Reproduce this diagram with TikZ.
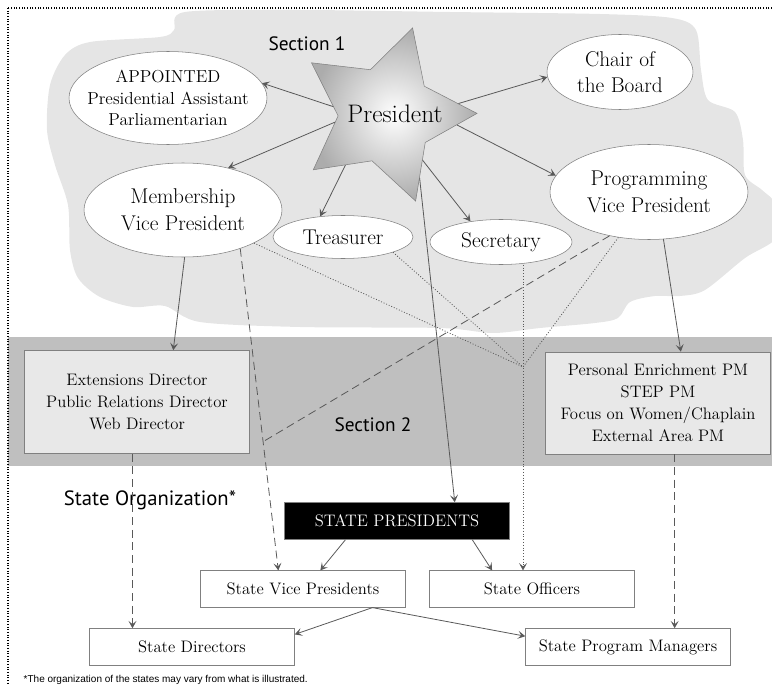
\documentclass[tikz,border=0pt]{standalone}
\usepackage{fontspec}
\newfontfamily\sectfont{PT Sans}
\newfontfamily\notefont{Liberation Sans}
\usetikzlibrary{arrows.meta,shapes.geometric}
\tikzset{>={Stealth[length=5.5pt,width=6pt,inset=2.5pt]}}
\definecolor{cloudgray}{gray}{0.9}
\definecolor{bandgray}{gray}{0.75}
\definecolor{boxgray}{gray}{0.91}
\definecolor{linegray}{gray}{0.35}
\tikzstyle{oval}=[ellipse,draw=gray,fill=white,inner sep=0pt]
\tikzstyle{ovaltext}=[align=center,inner sep=0pt,font=\fontsize{16}{20}\selectfont]
\tikzstyle{office}=[rectangle,draw=gray,fill=boxgray,align=center,minimum width=168.75pt,font=\fontsize{12.5}{16.5}\selectfont]
\tikzstyle{state}=[rectangle,draw=gray,fill=white,minimum width=153.75pt,minimum height=27.5pt,font=\fontsize{12.5}{15}\selectfont]
\tikzstyle{link}=[->,draw=linegray,line width=0.6pt]
\tikzstyle{dashlink}=[link,dash pattern=on 6pt off 3.5pt]
\tikzstyle{dotlink}=[draw=linegray,line width=0.6pt,dash pattern=on 0.7pt off 1.4pt]
\tikzstyle{heading}=[font=\sectfont\fontsize{14.5}{17}\selectfont]

\begin{document}
\begin{tikzpicture}[x=0.75pt,y=-0.75pt]
	\useasboundingbox (0,0) rectangle (772,685);

	% backgrounds
	\fill[cloudgray] plot[smooth cycle,tension=0.5] coordinates {
		(185,12) (300,10) (450,12) (600,14) (672,18) (696,30) (701,70) (708,100)
		(735,112) (743,140) (745,175) (762,190) (776,205) (776,238) (745,258)
		(705,290) (680,296) (655,296) (630,302) (618,318) (595,323) (540,328)
		(493,333) (440,328) (300,327) (200,322) (165,306) (133,307) (100,297)
		(78,278) (70,250) (68,205) (55,165) (47,130) (50,85) (65,55) (90,42)
		(160,37) (174,30)};
	\fill[bandgray] (8,337) rectangle (772,466);
	\draw[line width=0.8pt,dash pattern=on 0.8pt off 1.2pt] (8,8) rectangle (790,700);

	% Section 1
	\node[star,star points=5,star point ratio=1.9,shape border rotate=-17,minimum size=136.5pt,
		inner sep=0pt,draw=gray,inner color=white,outer color=gray!65] (pstar) at (386,115) {};
	\node[font=\fontsize{19}{22}\selectfont] (pres) at (395,114) {President};

	\node[oval,minimum width=148.5pt,minimum height=69.75pt] (appt) at (168,98) {};
	\node[ovaltext,font=\fontsize{13}{16}\selectfont] (apptlab) at (appt) {APPOINTED\\Presidential Assistant\\Parliamentarian};
	\node[oval,minimum width=109.5pt,minimum height=56.25pt] (chair) at (620,72) {};
	\node[ovaltext] (chairlab) at (chair) {Chair of\\the Board};
	\node[oval,minimum width=148.5pt,minimum height=70.5pt] (memb) at (183,210) {};
	\node[ovaltext] (memblab) at (memb) {Membership\\Vice President};
	\node[oval,minimum width=148.5pt,minimum height=71.25pt] (prog) at (649,192) {};
	\node[ovaltext] (proglab) at (prog) {Programming\\Vice President};
	\node[oval,minimum width=105pt,minimum height=32.25pt] (treas) at (343,237) {};
	\node[ovaltext] (treaslab) at (treas) {Treasurer};
	\node[oval,minimum width=106.5pt,minimum height=33.75pt] (secr) at (501,242) {};
	\node[ovaltext] (secrlab) at (secr) {Secretary};

	\node[heading] (sec1) at (307,44) {Section 1};

	% Section 2
	\node[office,minimum height=77.25pt] (ext) at (137,402) {Extensions Director\\Public Relations Director\\Web Director};
	\node[office,minimum height=76.5pt] (pers) at (658,403) {Personal Enrichment PM\\STEP PM\\Focus on Women/Chaplain\\External Area PM};
	\node[heading] (sec2) at (373,425) {Section 2};

	% states
	\node[heading,font=\sectfont\fontsize{15.5}{18}\selectfont] (stateorg) at (150,500) {State Organization*};
	\node[state,fill=black,text=white,minimum width=168.75pt,minimum height=27.75pt] (spres) at (397,521) {STATE PRESIDENTS};
	\node[state] (svp) at (303,589) {State Vice Presidents};
	\node[state] (soff) at (532,589) {State Officers};
	\node[state,minimum height=27.75pt] (sdir) at (192,647) {State Directors};
	\node[state,minimum height=27.75pt] (spm) at (628,647) {State Program Managers};

	\node[font=\notefont\fontsize{7.5}{9}\selectfont,anchor=base west] (note) at (19,682) {*The organization of the states may vary from what is illustrated.};

	% connectors
	\draw[link] (pstar.171) -- (appt.9);
	\draw[link] (pstar.188) -- (memb.43);
	\draw[link] (pstar.231) -- (treas.138);
	\draw[link] (pstar.-51) -- (secr.146);
	\draw[link] (pstar.9) -- (chair.184);
	\draw[link] (pstar.-8) -- (prog.170);
	\draw[link] (pstar.-62) -- (spres.18);

	\draw[link] (memb.-88) -- (ext.55);
	\draw[link] (prog.-73) -- (pers.66);

	\draw[dashlink] (memb.-34) -- (svp.143) coordinate[pos=0.6] (mjoin);
	\draw[dashlink,-] (prog.228) -- (mjoin);

	\coordinate (djoin) at (523,367);
	\draw[dotlink] (memb.-25) -- (djoin);
	\draw[dotlink] (treas.-17) -- (djoin);
	\draw[dotlink] (prog.236) -- (djoin);
	\draw[dotlink,->] (secr.south -| djoin) -- (soff.north -| djoin);

	\draw[dashlink] (ext.-95) -- (ext.-95 |- sdir.north);
	\draw[dashlink] (pers.-72) -- (pers.-72 |- spm.north);

	\draw[link] (spres.200) -- (svp.47);
	\draw[link] (spres.-14) -- (soff.155);
	\draw[link] (svp.-15) -- (sdir.7);
	\draw[link] (svp.-15) -- (spm.174);

\end{tikzpicture}
\end{document}
